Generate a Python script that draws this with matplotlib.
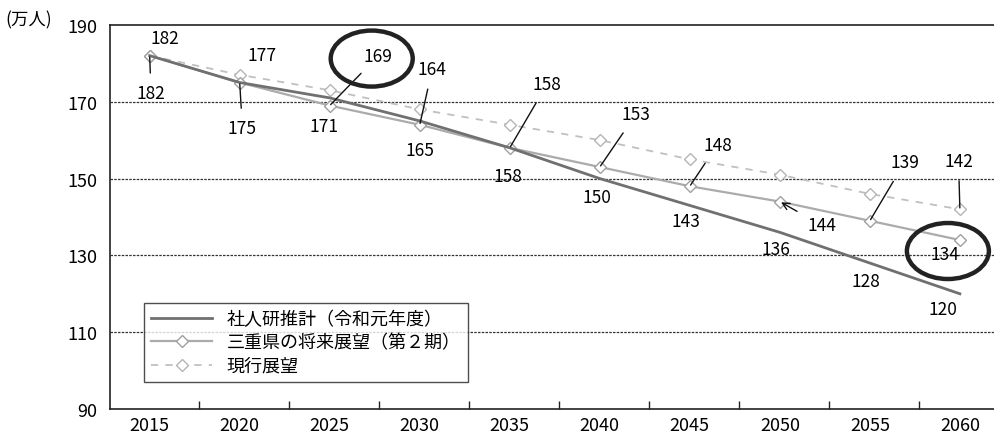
import matplotlib
matplotlib.use("Agg")
import matplotlib.pyplot as plt
from matplotlib.patches import Ellipse
from matplotlib.transforms import ScaledTranslation

plt.rcParams["font.family"] = ["Noto Sans CJK JP", "DejaVu Sans"]

years = [2015, 2020, 2025, 2030, 2035, 2040, 2045, 2050, 2055, 2060]
shajinken = [182, 175, 171, 165, 158, 150, 143, 136, 128, 120]   # 社人研推計（令和元年度）
mie_2nd = [182, 175, 169, 164, 158, 153, 148, 144, 139, 134]     # 三重県の将来展望（第2期）
genko = [182, 177, 173, 168, 164, 160, 155, 151, 146, 142]       # 現行展望
names = ["社人研推計（令和元年度）", "三重県の将来展望（第２期）", "現行展望"]

# value labels: (series, index, text offset in points, leader style)
label_above = [
    (genko, 0, (11, 13), None),
    (genko, 1, (16, 14), None),
    (mie_2nd, 2, (35, 36), "-"),
    (mie_2nd, 3, (9, 40), "-"),
    (mie_2nd, 4, (27, 46), "-"),
    (mie_2nd, 5, (26, 38), "-"),
    (mie_2nd, 6, (20, 30), "-"),
    (mie_2nd, 7, (30, -17), "->"),
    (mie_2nd, 8, (25, 42), "-"),
    (genko, 9, (-1, 35), "-"),
]
label_below = [
    (shajinken, 0, (1, -27), "-"),
    (shajinken, 1, (2, -33), "-"),
    (shajinken, 2, (-4, -20), None),
    (shajinken, 3, (0, -21), None),
    (shajinken, 4, (-1, -20), None),
    (shajinken, 5, (-2, -13), None),
    (shajinken, 6, (-3, -11), None),
    (shajinken, 7, (-3, -12), None),
    (shajinken, 8, (-3, -13), None),
    (shajinken, 9, (-12, -11), None),
    (mie_2nd, 9, (-11, -10), None),
]
# highlighted values: (series, index, ellipse centre offset in inches, up = +)
circled = [(mie_2nd, 2, (0.42, 0.47)), (mie_2nd, 9, (-0.12, -0.11))]

fig = plt.figure(figsize=(9.95, 4.39), dpi=100)
ax = fig.add_axes([0.1106, 0.066, 0.8894, 0.875])
x = list(range(len(years)))

ax.plot(x, shajinken, color="#707070", lw=2.0, zorder=4, label=names[0])
ax.plot(x, mie_2nd, color="#ababab", lw=1.6, marker="D", ms=6, mfc="white",
        mec="#a0a0a0", mew=1.0, zorder=3, label=names[1])
ax.plot(x, genko, color="#c0c0c0", lw=1.3, ls=(0, (4, 4)), marker="D", ms=6, mfc="white",
        mec="#b5b5b5", mew=1.0, zorder=2, label=names[2])

ax.set_ylim(90, 190)
ax.set_xlim(-0.44, 9.39)
ax.set_yticks(range(90, 191, 20))
ax.set_xticks(x)
ax.set_xticklabels([str(y) for y in years], fontsize=13)
ax.set_xticks([i + 0.55 for i in range(len(years) - 1)], minor=True)
ax.tick_params(axis="x", which="major", length=0, pad=5)
ax.tick_params(axis="x", which="minor", direction="in", length=6, width=1, color="#222")
ax.tick_params(axis="y", length=0, labelsize=13, pad=9)
for v in range(110, 190, 20):
    ax.axhline(v, color="#333", lw=0.9, ls=(0, (2, 1)), zorder=1)

ax.spines["right"].set_visible(False)
for s in ["left", "bottom", "top"]:
    ax.spines[s].set_color("#222")
    ax.spines[s].set_linewidth(1.2)

fig.text(0.005, 0.953, "(万人)", fontsize=12.5, ha="left", va="center")

for series, i, off, style in label_above + label_below:
    kw = dict(textcoords="offset points", ha="center", va="center", fontsize=12.5, zorder=6)
    if style:
        kw["arrowprops"] = dict(arrowstyle=style, color="#111", lw=1.0, shrinkA=6, shrinkB=1)
    ax.annotate(str(series[i]), xy=(i, series[i]), xytext=off, **kw)

for series, i, (dx, dy) in circled:
    tr = fig.dpi_scale_trans + ScaledTranslation(i, series[i], ax.transData)
    ax.add_patch(Ellipse((dx, dy), 0.82, 0.56, transform=tr, fill=False,
                         ec="#222", lw=3.2, zorder=7, clip_on=False))

leg = ax.legend(loc="upper left", bbox_to_anchor=(0.028, 0.30), fontsize=13,
                handlelength=3.4, borderpad=0.4, labelspacing=0.3, frameon=True,
                fancybox=False, edgecolor="#222")
leg.get_frame().set_linewidth(1.0)

fig.savefig("out.png", dpi=100)
